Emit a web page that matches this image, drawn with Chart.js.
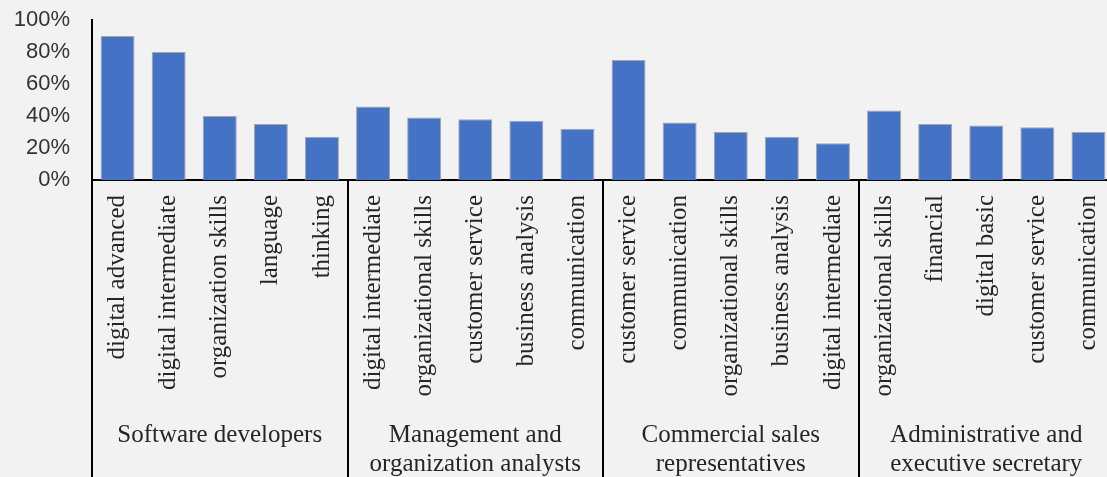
<!DOCTYPE html>
<html>
<head>
<meta charset="utf-8">
<script src="https://cdn.jsdelivr.net/npm/chart.js@4"></script>
<style>
  html, body { margin: 0; padding: 0; background: #f2f2f2; overflow: hidden; }
  #wrap { width: 1114px; height: 477px; }
  canvas { display: block; background: #f2f2f2; }
</style>
</head>
<body>
<div id="wrap"><canvas id="chart" width="1114" height="477"></canvas></div>
<script>
// Occupation groups (one label per group, possibly two lines) and how many skills each holds
const groupLabels = [
  ['Software developers'],
  ['Management and', 'organization analysts'],
  ['Commercial sales', 'representatives'],
  ['Administrative and', 'executive secretary']
];
const groupSizes = [5, 5, 5, 5];

// Skills, in the order they appear along the axis
const skills = [
  'digital advanced', 'digital intermediate', 'organization skills', 'language', 'thinking',
  'digital intermediate', 'organizational skills', 'customer service', 'business analysis', 'communication',
  'customer service', 'communication', 'organizational skills', 'business analysis', 'digital intermediate',
  'organizational skills', 'financial', 'digital basic', 'customer service', 'communication'
];

// Share of job postings requesting each skill (%)
const shares = [
  90, 80, 40, 35, 27,
  46, 39, 38, 37, 32,
  75, 36, 30, 27, 23,
  43.5, 35, 34, 33, 30
];

// Value axis ticks (%)
const yTickValues = [0, 20, 40, 60, 80, 100];

const SERIF = '"Liberation Serif", "DejaVu Serif", serif';
const SANS = '"Liberation Sans", Arial, sans-serif';

// Second-level category axis: group dividers and group names under the skill labels
const groupAxis = {
  id: 'groupAxis',
  afterDraw(chart) {
    const { ctx, chartArea } = chart;
    const x = chart.scales.x;
    const half = (x.getPixelForValue(1) - x.getPixelForValue(0)) / 2;
    const bottom = chart.height;
    ctx.save();
    ctx.strokeStyle = '#000';
    ctx.lineWidth = 2;
    let start = 0;
    const edges = [];
    groupSizes.forEach((n) => { edges.push(x.getPixelForValue(start) - half); start += n; });
    edges.push(x.getPixelForValue(start - 1) + half);
    edges.forEach((px) => {
      ctx.beginPath();
      ctx.moveTo(Math.round(px), chartArea.bottom);
      ctx.lineTo(Math.round(px), bottom);
      ctx.stroke();
    });
    ctx.fillStyle = '#262626';
    ctx.font = '25px ' + SERIF;
    ctx.textAlign = 'center';
    ctx.textBaseline = 'alphabetic';
    start = 0;
    groupLabels.forEach((lines, g) => {
      const first = x.getPixelForValue(start);
      const last = x.getPixelForValue(start + groupSizes[g] - 1);
      const cx = (first + last) / 2;
      lines.forEach((line, i) => {
        ctx.fillText(line, cx, chartArea.bottom + 262 + i * 29);
      });
      start += groupSizes[g];
    });
    ctx.restore();
  }
};

new Chart(document.getElementById('chart'), {
  type: 'bar',
  data: {
    labels: skills,
    datasets: [{
      data: shares,
      backgroundColor: '#4472c4',
      borderColor: '#a6a6a6',
      borderWidth: 1,
      categoryPercentage: 1,
      barPercentage: 0.665
    }]
  },
  options: {
    responsive: false,
    animation: false,
    devicePixelRatio: 1,
    layout: { padding: { top: 20, right: 0, bottom: 0, left: 0 } },
    plugins: { legend: { display: false }, tooltip: { enabled: false } },
    scales: {
      x: {
        grid: { display: false, drawTicks: false },
        border: { display: true, color: '#000', width: 2 },
        ticks: {
          autoSkip: false,
          minRotation: 90,
          maxRotation: 90,
          padding: 15,
          color: '#262626',
          font: { family: SERIF, size: 25 }
        },
        afterFit(scale) {
          scale.height = 297;
          scale.paddingLeft = 0;
          scale.paddingRight = 0;
          scale.paddingTop = 0;
          scale.paddingBottom = 0;
        }
      },
      y: {
        min: 0,
        max: 100,
        afterBuildTicks(scale) { scale.ticks = yTickValues.map((v) => ({ value: v })); },
        grid: { display: false, drawTicks: false },
        border: { display: true, color: '#000', width: 2 },
        ticks: {
          padding: 22,
          color: '#333',
          font: { family: SANS, size: 22 },
          callback: (v) => v + '%'
        },
        afterFit(scale) {
          scale.width = 92;
          scale.paddingTop = 0;
          scale.paddingBottom = 0;
        }
      }
    }
  },
  plugins: [groupAxis]
});
</script>
</body>
</html>
